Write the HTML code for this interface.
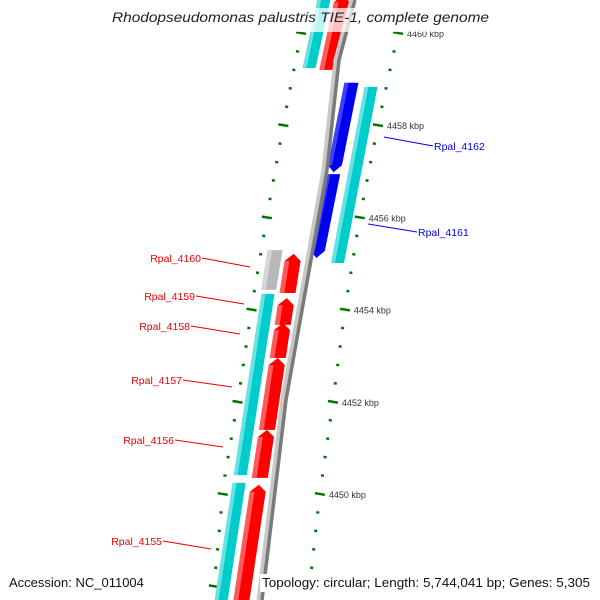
<!DOCTYPE html>
<html><head><meta charset="utf-8"><style>
html,body{margin:0;padding:0;background:#fff;}
svg{display:block;font-family:"Liberation Sans","DejaVu Sans",sans-serif;}
</style></head><body>
<svg id="map" width="600" height="600" viewBox="0 0 600 600" xmlns="http://www.w3.org/2000/svg">
<g id="ticks"></g>
<g id="genes"></g>
<g id="backbone">
<polyline points="353,0 337,60 325,170 284,400 260,600" fill="none" stroke="#c8c8c8" stroke-width="7"/>
<polyline points="355,0 339,60 327,170 286,400 262,600" fill="none" stroke="#7a7a7a" stroke-width="3.5"/>
</g>
<g id="labels"></g>
<rect x="108" y="8" width="385" height="24" fill="#fff" opacity="0.75"/>
<text x="112" y="22" textLength="377" lengthAdjust="spacingAndGlyphs" font-size="13.5" font-style="italic" fill="#222">Rhodopseudomonas palustris TIE-1, complete genome</text>
<text x="9" y="587" font-size="13" fill="#111">Accession: NC_011004</text>
<rect x="260" y="574" width="335" height="18" fill="#fff"/>
<text x="262" y="587" textLength="328" lengthAdjust="spacingAndGlyphs" font-size="13" fill="#111">Topology: circular; Length: 5,744,041 bp; Genes: 5,305</text>
</svg>
<script>
// ---- data ----
const geneStarts = [4460.82, 4460.82, 4458.92, 4456.94, 4458.83, 4456.97, 4455.29, 4455.21, 4454.25, 4453.71, 4452.95, 4451.39, 4450.20, 4454.34, 4452.98, 4451.42, 4450.24];
const geneEnds   = [4459.24, 4459.20, 4456.98, 4455.12, 4456.97, 4455.01, 4454.43, 4454.36, 4453.67, 4452.95, 4451.39, 4450.35, 4447.70, 4452.98, 4451.42, 4450.41, 4447.70];
const geneTracks = ["cyanL","redL","blueR","blueR","cyanR","cyanR","grayL","redL","redL","redL","redL","redL","redL","cyanL","cyanL","cyanL","cyanL"];
const geneNames  = ["","","Rpal_4162","Rpal_4161","","","","Rpal_4160","Rpal_4159","Rpal_4158","Rpal_4157","Rpal_4156","Rpal_4155","","","",""];
const majorTicks = [4460, 4458, 4456, 4454, 4452, 4450, 4448];
const majorLabels = ["4460 kbp","4458 kbp","4456 kbp","4454 kbp","4452 kbp","4450 kbp","4448 kbp"];
const minorStep = 0.4;

// ---- axis functions ----
function yOf(kbp){ return 33 + (4460 - kbp) * 46.1; }
function curl(y){ return y<300 ? 0.00012*(y-300)*(y-300) : 0; }
const tracks = {
  redL:  {c:y=>331.5-0.15*y+curl(y), w:16, fill:"#ff0000", light:"#ff7070", dir:1},
  cyanL: {c:y=>313-0.153*y+curl(y), w:13, fill:"#00cccc", light:"#7fe8e8", dir:0},
  grayL: {c:y=>313-0.153*y+curl(y), w:15, fill:"#b8b8b8", light:"#dddddd", dir:0},
  blueR: {c:y=>368-0.2*y,   w:14, fill:"#0000ee", light:"#5050ff", dir:-1},
  cyanR: {c:y=>387.5-0.19*y, w:13, fill:"#00cccc", light:"#7fe8e8", dir:0}
};
function interp(pts, y){
  for(let i=0;i<pts.length-1;i++){
    const [y0,x0]=pts[i],[y1,x1]=pts[i+1];
    if(y<=y1||i===pts.length-2){ return x0+(x1-x0)*(y-y0)/(y1-y0); }
  }
}
const rightTickPath = [[-60,420],[33,398],[125,378],[216,360],[309,345],[401,333],[493,320],[600,308]];
const leftTickPath  = [[-60,318],[13,305],[105,287],[199,270],[293,254],[387,240],[481,224],[576,215],[640,208]];
const NS="http://www.w3.org/2000/svg";
function mk(tag, attrs, parent){ const e=document.createElementNS(NS,tag); for(const k in attrs) e.setAttribute(k, attrs[k]); parent.appendChild(e); return e; }

// ---- genes ----
const gG=document.getElementById('genes');
for(let i=0;i<geneStarts.length;i++){
  const t=tracks[geneTracks[i]];
  let yTop=yOf(geneStarts[i]), yBot=yOf(geneEnds[i]);
  const h=7;
  const L=y=>t.c(y)-t.w/2, R=y=>t.c(y)+t.w/2, C=y=>t.c(y);
  let pts;
  if(t.dir===1){
    pts=[[L(yBot),yBot],[L(yTop+h),yTop+h],[C(yTop),yTop],[R(yTop+h),yTop+h],[R(yBot),yBot]];
  } else if(t.dir===-1){
    pts=[[L(yTop),yTop],[R(yTop),yTop],[R(yBot-h),yBot-h],[C(yBot),yBot],[L(yBot-h),yBot-h]];
  } else {
    pts=[[L(yTop),yTop],[R(yTop),yTop],[R(yBot),yBot],[L(yBot),yBot]];
  }
  const poly=mk('polygon',{points:pts.map(p=>p.join(',')).join(' '),fill:t.fill},gG);
  
  
  const lw=t.w*0.3;
  const y1=yTop+(t.dir===1?h:0), y2=yBot-(t.dir===-1?h:0);
  const hl=mk('polygon',{points:[[L(y1),y1],[L(y1)+lw,y1],[L(y2)+lw,y2],[L(y2),y2]].map(p=>p.join(',')).join(' '),fill:t.light,opacity:0.8},gG);
  
  
}

// ---- ticks ----
const gT=document.getElementById('ticks');
for(let k=4461.2;k>=4446.8;k-=minorStep){
  const kk=Math.round(k*10)/10;
  const y=yOf(kk);
  if(y<-5||y>605) continue;
  const isMajor=majorTicks.some(m=>Math.abs(m-kk)<0.05);
  const len=isMajor?10:3;
  [rightTickPath,leftTickPath].forEach((p,side)=>{
    const x=interp(p,y);
    const ln=mk('line',{x1:x-len/2,y1:y-len*0.08,x2:x+len/2,y2:y+len*0.08,stroke:"#007700","stroke-width":2.5},gT);
    
    
  });
}
for(let i=0;i<majorTicks.length;i++){
  const y=yOf(majorTicks[i]);
  const x=interp(rightTickPath,y);
  const tx=mk('text',{x:x+9,y:y+4,"font-size":"9",fill:"#333"},gT);
  tx.textContent=majorLabels[i];
  
  
}

// ---- gene labels ----
const gL=document.getElementById('labels');
const labelPos = {"Rpal_4162":[384,137,433,146,"start"],"Rpal_4161":[368,224,417,232,"start"],
 "Rpal_4160":[250,267,202,258,"end"],"Rpal_4159":[244,304,196,296,"end"],"Rpal_4158":[240,334,191,326,"end"],
 "Rpal_4157":[232,387,183,380,"end"],"Rpal_4156":[223,447,175,440,"end"],"Rpal_4155":[211,549,163,541,"end"]};
for(let i=0;i<geneNames.length;i++){
  const n=geneNames[i]; if(!n) continue;
  const p=labelPos[n]; const col=geneTracks[i]==="blueR"?"#0000ee":"#ee0000";
  const ln=mk('line',{x1:p[0],y1:p[1],x2:p[2],y2:p[3],stroke:col,"stroke-width":1},gL);
  
  
  const tx=mk('text',{x:p[4]==="start"?p[2]+1:p[2]-1,y:p[3]+4,"font-size":"10.5",fill:col,"text-anchor":p[4]},gL);
  tx.textContent=n;
  
  
}
</script>
</body></html>
